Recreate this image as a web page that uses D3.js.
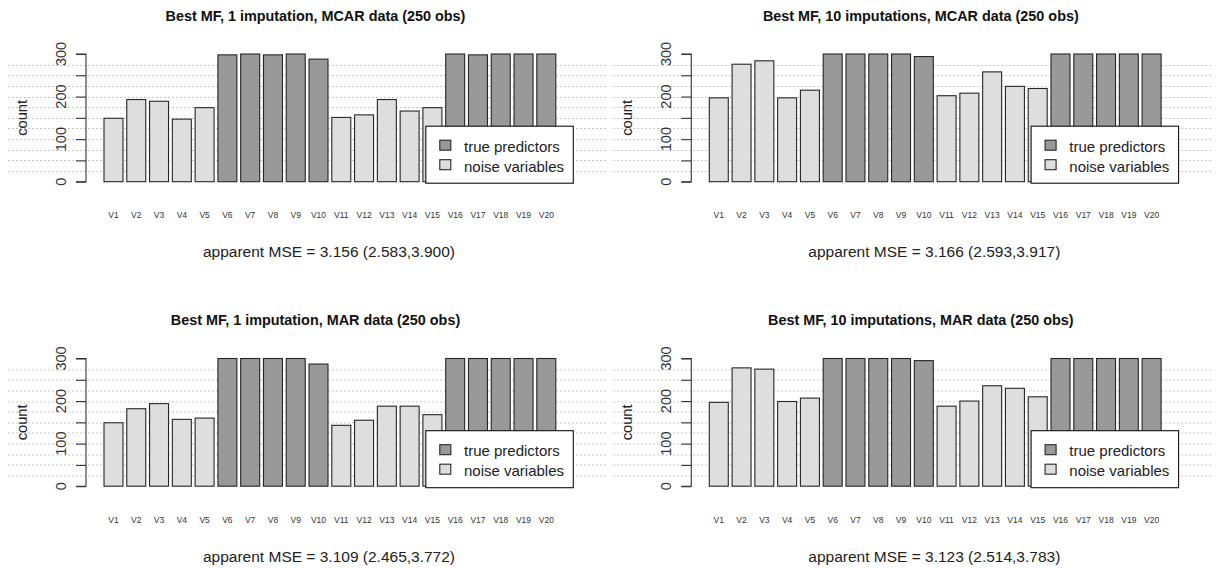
<!DOCTYPE html>
<html>
<head>
<meta charset="utf-8">
<script src="https://cdn.jsdelivr.net/npm/d3@7"></script>
<style>
  html, body { margin: 0; padding: 0; background: #ffffff; }
  svg { display: block; font-family: "Liberation Sans", Arial, sans-serif; }
</style>
</head>
<body>
<svg id="chart" width="1219" height="568"></svg>
<script>
// ---------------- data ----------------
const categories = ["V1","V2","V3","V4","V5","V6","V7","V8","V9","V10",
                    "V11","V12","V13","V14","V15","V16","V17","V18","V19","V20"];
const varTypes = ["noise","noise","noise","noise","noise","true","true","true","true","true",
                  "noise","noise","noise","noise","noise","true","true","true","true","true"];
const mcar1  = [149,193,189,147,174,298,300,298,300,288,151,157,193,166,174,300,298,300,300,300];
const mcar10 = [197,276,284,197,215,300,300,300,300,294,202,208,258,224,219,300,300,300,300,300];
const mar1   = [149,182,194,157,160,300,300,300,300,287,143,155,188,188,168,300,300,300,300,300];
const mar10  = [197,278,275,199,207,300,300,300,300,295,188,200,236,230,210,300,300,300,300,300];
const titles = ["Best MF, 1 imputation, MCAR data (250 obs)",
                "Best MF, 10 imputations, MCAR data (250 obs)",
                "Best MF, 1 imputation, MAR data (250 obs)",
                "Best MF, 10 imputations, MAR data (250 obs)"];
const mseLabels = ["apparent MSE = 3.156 (2.583,3.900)",
                   "apparent MSE = 3.166 (2.593,3.917)",
                   "apparent MSE = 3.109 (2.465,3.772)",
                   "apparent MSE = 3.123 (2.514,3.783)"];
const yTicks = [0,50,100,150,200,250,300];
const yTickLabels = [0,100,200,300];
const gridValues = [25,50,75,100,125,150,175,200,225,250,275];
const legendLabels = ["true predictors","noise variables"];
const legendTypes = ["true","noise"];

// ---------------- layout ----------------
const panels = [
  {values: mcar1,  title: titles[0], mse: mseLabels[0], col: 0, row: 0},
  {values: mcar10, title: titles[1], mse: mseLabels[1], col: 1, row: 0},
  {values: mar1,   title: titles[2], mse: mseLabels[2], col: 0, row: 1},
  {values: mar10,  title: titles[3], mse: mseLabels[3], col: 1, row: 1}
];
const colDX = 605.3, rowDY = 304.5;
const fillFor = {"true": "#999999", "noise": "#dedede"};

const svg = d3.select("#chart");

panels.forEach(p => {
  const g = svg.append("g")
    .attr("transform", `translate(${p.col * colDX},${p.row * rowDY})`);

  const x = d3.scaleBand()
    .domain(categories)
    .range([102.1, 557.7])
    .paddingInner(1/6)
    .paddingOuter(1/12);
  const y = d3.scaleLinear().domain([0, 300]).range([181.7, 54.0]);

  // gridlines
  g.append("g").selectAll("line").data(gridValues).join("line")
    .attr("x1", 8).attr("x2", 606)
    .attr("y1", d => Math.round(y(d)) + 0.5).attr("y2", d => Math.round(y(d)) + 0.5)
    .attr("stroke", "#c8c8c8").attr("stroke-width", 1)
    .attr("stroke-dasharray", "2,2");

  // bars
  g.append("g").selectAll("rect").data(p.values).join("rect")
    .attr("x", (d, i) => x(categories[i]))
    .attr("width", x.bandwidth())
    .attr("y", d => y(d))
    .attr("height", d => y(0) - y(d))
    .attr("fill", (d, i) => fillFor[varTypes[i]])
    .attr("stroke", "#262626").attr("stroke-width", 1.1);

  // x labels
  g.append("g").selectAll("text").data(categories).join("text")
    .attr("x", d => x(d) + x.bandwidth() / 2)
    .attr("y", 218.3)
    .attr("text-anchor", "middle")
    .attr("font-size", "8.5px")
    .attr("fill", "#333")
    .text(d => d);

  // y axis
  const axisX = 86;
  const yAxis = d3.axisLeft(y).tickValues(yTicks).tickSize(10).tickFormat("");
  const ag = g.append("g").attr("transform", `translate(${axisX},0)`).call(yAxis);
  ag.selectAll("path,line").attr("stroke", "#333").attr("stroke-width", 1.1);
  ag.select(".domain").attr("d", `M-10,${y(300)}H0V${y(0)}H-10`);

  g.append("g").selectAll("text").data(yTickLabels).join("text")
    .attr("transform", d => `translate(65.5,${y(d)}) rotate(-90)`)
    .attr("text-anchor", "middle")
    .attr("font-size", "14.5px")
    .attr("fill", "#333")
    .text(d => d);

  g.append("text")
    .attr("transform", `translate(26.6,${y(150)}) rotate(-90)`)
    .attr("text-anchor", "middle")
    .attr("font-size", "14.7px")
    .attr("fill", "#222")
    .text("count");

  // title
  g.append("text")
    .attr("x", 315.5).attr("y", 20.7)
    .attr("text-anchor", "middle")
    .attr("font-size", "14.4px").attr("font-weight", "bold")
    .attr("fill", "#111")
    .text(p.title);

  // MSE
  g.append("text")
    .attr("x", 329).attr("y", 257.3)
    .attr("text-anchor", "middle")
    .attr("font-size", "15.5px")
    .attr("fill", "#222")
    .text(p.mse);

  // legend
  const lg = g.append("g").attr("transform", "translate(425.3,125.7)");
  lg.append("rect").attr("x", 0.5).attr("y", 0.5).attr("width", 147.5).attr("height", 57)
    .attr("fill", "#fff").attr("stroke", "#111").attr("stroke-width", 1.1);
  legendLabels.forEach((lab, i) => {
    lg.append("rect")
      .attr("x", 14.5).attr("y", 14.5 + i * 19.5)
      .attr("width", 11).attr("height", 10)
      .attr("fill", fillFor[legendTypes[i]]).attr("stroke", "#262626").attr("stroke-width", 1.1);
    lg.append("text")
      .attr("x", 38.7).attr("y", 26.3 + i * 20)
      .attr("font-size", "15px").attr("fill", "#222")
      .text(lab);
  });
});
</script>
</body>
</html>
